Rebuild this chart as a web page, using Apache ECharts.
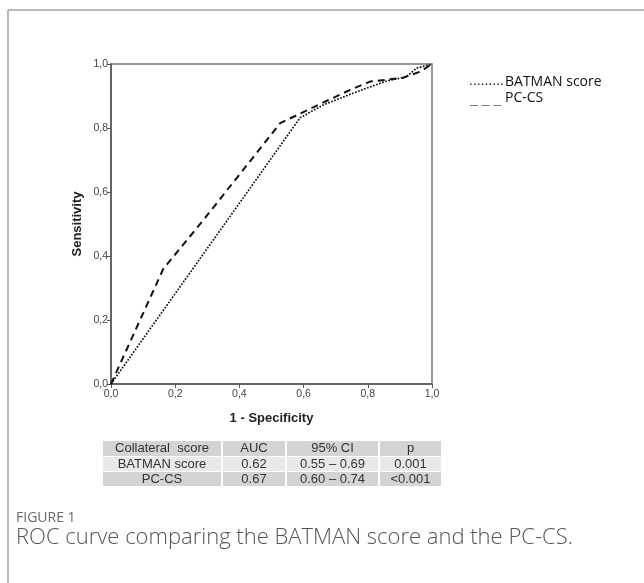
<!DOCTYPE html>
<html>
<head>
<meta charset="utf-8">
<script src="https://cdn.jsdelivr.net/npm/echarts@6/dist/echarts.min.js"></script>
<style>
html,body{margin:0;padding:0;background:#fff;}
#chart{width:644px;height:583px;}
</style>
</head>
<body>
<div id="chart"></div>
<script>
// ---- data ----
var batmanPoints = [[0,0],[0.589,0.832],[0.661,0.872],[0.765,0.913],[0.859,0.947],[0.92,0.96],[0.952,0.987],[1,1]];
var pccsPoints = [[0,0],[0.163,0.36],[0.29,0.515],[0.527,0.815],[0.645,0.872],[0.745,0.919],[0.807,0.945],[0.91,0.957],[0.963,0.976],[1,1]];
var seriesNames = ['BATMAN score','PC-CS'];
var axisTicks = [0,0.2,0.4,0.6,0.8,1.0];
var xAxisTitle = '1 - Specificity';
var yAxisTitle = 'Sensitivity';
var tableHeader = ['Collateral  score','AUC','95% CI','p'];
var tableRowLabels = ['BATMAN score','PC-CS'];
var tableAUC = ['0.62','0.67'];
var tableCI = ['0.55 \u2013 0.69','0.60 \u2013 0.74'];
var tableP = ['0.001','<0.001'];
var figureLabel = 'FIGURE 1';
var captionText = 'ROC curve comparing the BATMAN score and the PC-CS.';

var chart = echarts.init(document.getElementById('chart'), null, {renderer:'canvas'});

function fmt(v){ return v.toFixed(1).replace('.', ','); }

// table layout
var colEdges = [103, 222, 286, 379, 442];
var rowEdges = [441, 456.5, 471.5, 486.5];
var rowFills = ['#d4d4d4', '#e9e9e9', '#d4d4d4'];
var tableRows = [tableHeader];
for (var i = 0; i < tableRowLabels.length; i++) {
  tableRows.push([tableRowLabels[i], tableAUC[i], tableCI[i], tableP[i]]);
}
var graphics = [];
// frame
graphics.push({type:'line', shape:{x1:8,y1:10,x2:644,y2:10}, style:{stroke:'#b9b9b9', lineWidth:2}});
graphics.push({type:'line', shape:{x1:8,y1:10,x2:8,y2:583}, style:{stroke:'#b9b9b9', lineWidth:2}});
// legend as text
graphics.push({type:'text', left:469, top:74, style:{text:'.........', font:'14px "Liberation Sans"', fill:'#111'}});
graphics.push({type:'text', left:505, top:75, style:{text:seriesNames[0], font:'14px "Open Sans"', fill:'#111'}});
graphics.push({type:'text', left:470, top:93, style:{text:'_ _ _', font:'bold 14px "Liberation Sans"', fill:'#111'}});
graphics.push({type:'text', left:505, top:91, style:{text:seriesNames[1], font:'14px "Open Sans"', fill:'#111'}});
// table
for (var r = 0; r < tableRows.length; r++) {
  for (var c = 0; c < 4; c++) {
    var x0 = colEdges[c] + (c > 0 ? 1 : 0), x1 = colEdges[c+1] - 1;
    var y0 = rowEdges[r] + (r > 0 ? 0.5 : 0), y1 = rowEdges[r+1] - 0.5;
    graphics.push({type:'rect', shape:{x:x0, y:y0, width:x1-x0, height:y1-y0}, style:{fill:rowFills[r]}});
    graphics.push({type:'text', x:(x0+x1)/2, y:(y0+y1)/2, style:{text:tableRows[r][c], font:'13px "Liberation Sans"', fill:'#333', align:'center', verticalAlign:'middle'}});
  }
}
// caption
graphics.push({type:'text', left:16, top:511, style:{text:figureLabel, font:'14px "Open Sans"', fill:'#6a6a6a'}});
graphics.push({type:'text', left:16, top:527, style:{text:captionText, font:'300 22px "Open Sans"', fill:'#555'}});

var option = {
  animation:false,
  backgroundColor:'#fff',
  grid:{left:111, right:212, top:64, bottom:199, show:true, borderColor:'#777', borderWidth:1.5},
  xAxis:{
    type:'value', min:0, max:1, interval:0.2,
    name:xAxisTitle, nameLocation:'middle', nameGap:28,
    nameTextStyle:{fontFamily:'Liberation Sans', fontWeight:'bold', fontSize:13, color:'#222'},
    axisLine:{show:true, lineStyle:{color:'#555', width:1.5}},
    axisTick:{show:true, length:4, lineStyle:{color:'#555'}},
    axisLabel:{formatter:fmt, color:'#444', fontFamily:'Liberation Sans', fontSize:10.5, margin:5},
    splitLine:{show:false}
  },
  yAxis:{
    type:'value', min:0, max:1, interval:0.2,
    name:yAxisTitle, nameLocation:'middle', nameGap:27, nameRotate:90,
    nameTextStyle:{fontFamily:'Liberation Sans', fontWeight:'bold', fontSize:13, color:'#222'},
    axisLine:{show:true, lineStyle:{color:'#555', width:1.5}},
    axisTick:{show:true, length:4, lineStyle:{color:'#555'}},
    axisLabel:{formatter:fmt, color:'#444', fontFamily:'Liberation Sans', fontSize:10.5, margin:3},
    splitLine:{show:false}
  },
  series:[
    {name:seriesNames[0], type:'line', data:batmanPoints, showSymbol:false, symbol:'none',
     lineStyle:{color:'#111', width:1.7, type:[1.7,1.5]}},
    {name:seriesNames[1], type:'line', data:pccsPoints, showSymbol:false, symbol:'none',
     lineStyle:{color:'#111', width:2, type:[7,5]}}
  ],
  graphic:graphics
};
chart.setOption(option);
</script>
</body>
</html>
